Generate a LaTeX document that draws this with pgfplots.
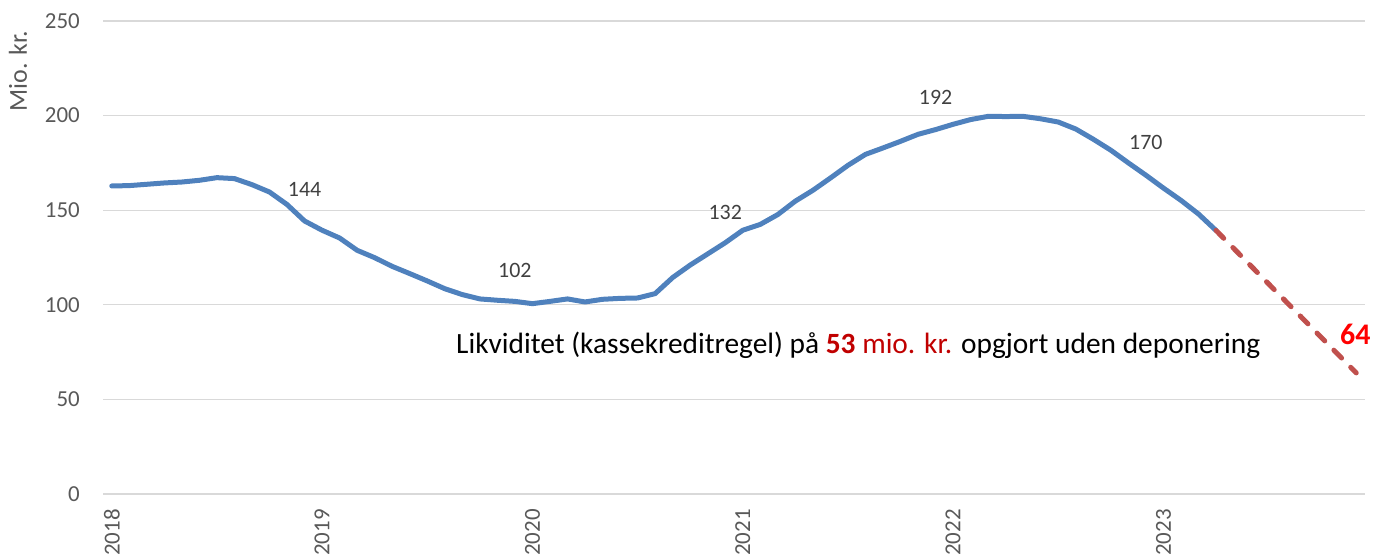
\documentclass[border=0pt]{standalone}
\usepackage{fontspec}
\setmainfont{Carlito}
\usepackage{pgfplots}
\pgfplotsset{compat=1.18}
\definecolor{lineblue}{HTML}{4F81BD}
\definecolor{linered}{HTML}{C0504D}
\definecolor{gridgray}{HTML}{D9D9D9}
\definecolor{labgray}{HTML}{595959}
\definecolor{datgray}{HTML}{404040}
\definecolor{darkred}{HTML}{C00000}
\definecolor{brightred}{HTML}{FF0000}
\begin{document}
\begin{tikzpicture}
\begin{axis}[
  at={(103bp,64bp)}, anchor=south west,
  scale only axis, width=1262bp, height=473bp,
  xmin=-0.5, xmax=71.5, ymin=0, ymax=250,
  ytick={0,50,100,150,200,250},
  xtick={0,12,24,36,48,60},
  xticklabels={2018,2019,2020,2021,2022,2023},
  ymajorgrids, major grid style={gridgray, line width=1.3bp},
  axis line style={draw=none}, tick style={draw=none},
  /pgf/number format/assume math mode=true,
  ticklabel style={font=\fontsize{23}{27}\selectfont, text=labgray},
  yticklabel style={anchor=east, inner sep=0pt, xshift=-23bp},
  xticklabel style={yshift=-15bp, rotate=90, anchor=east, inner sep=0pt},
  clip=false,
]
\addplot[lineblue, line width=5bp, line join=round, line cap=round] coordinates {
(0,162.8) (1,163.0) (2,163.7) (3,164.4) (4,164.9) (5,165.8) (6,167.2) (7,166.7)
(8,163.5) (9,159.6) (10,153.0) (11,144.3) (12,139.4) (13,135.3) (14,128.8) (15,124.9)
(16,120.3) (17,116.5) (18,112.6) (19,108.5) (20,105.4) (21,103.1) (22,102.4) (23,101.8)
(24,100.6) (25,101.8) (26,103.1) (27,101.5) (28,102.9) (29,103.4) (30,103.6) (31,105.9)
(32,114.4) (33,121.0) (34,126.9) (35,132.8) (36,139.4) (37,142.5) (38,147.7) (39,154.8)
(40,160.5) (41,167.0) (42,173.7) (43,179.5) (44,182.9) (45,186.4) (46,190.1) (47,192.6)
(48,195.4) (49,197.9) (50,199.6) (51,199.5) (52,199.6) (53,198.3) (54,196.6) (55,192.9)
(56,187.5) (57,181.7) (58,175.0) (59,168.5) (60,161.7) (61,155.2) (62,148.0) (63,139.3)
};
\addplot[linered, line width=5bp, line cap=round, dash pattern=on 11bp off 13bp] coordinates {
(63,139.3) (71,64)
};
\node[text=datgray, font=\fontsize{22}{26}\selectfont] at (axis cs:11,160.9) {144};
\node[text=datgray, font=\fontsize{22}{26}\selectfont] at (axis cs:23,117.9) {102};
\node[text=datgray, font=\fontsize{22}{26}\selectfont] at (axis cs:35,149) {132};
\node[text=datgray, font=\fontsize{22}{26}\selectfont] at (axis cs:47,209.5) {192};
\node[text=datgray, font=\fontsize{22}{26}\selectfont] at (axis cs:59,186) {170};
\end{axis}
\node[rotate=90, text=labgray, font=\fontsize{26}{31}\selectfont, inner sep=0pt] at (18bp,487bp) {Mio. kr.};
\node[anchor=base west, inner sep=0pt, font=\fontsize{29.5}{35}\selectfont] at (456bp,204.7bp)
  {Likviditet (kassekreditregel) på \textcolor{darkred}{\textbf{53} mio. kr.} opgjort uden deponering};
\node[anchor=base west, inner sep=0pt, text=brightred, font=\fontsize{30}{36}\selectfont\bfseries] at (1340bp,213bp) {64};
\pgfresetboundingbox
\path[use as bounding box] (0,0) rectangle (1373bp,558bp);
\end{tikzpicture}
\end{document}
